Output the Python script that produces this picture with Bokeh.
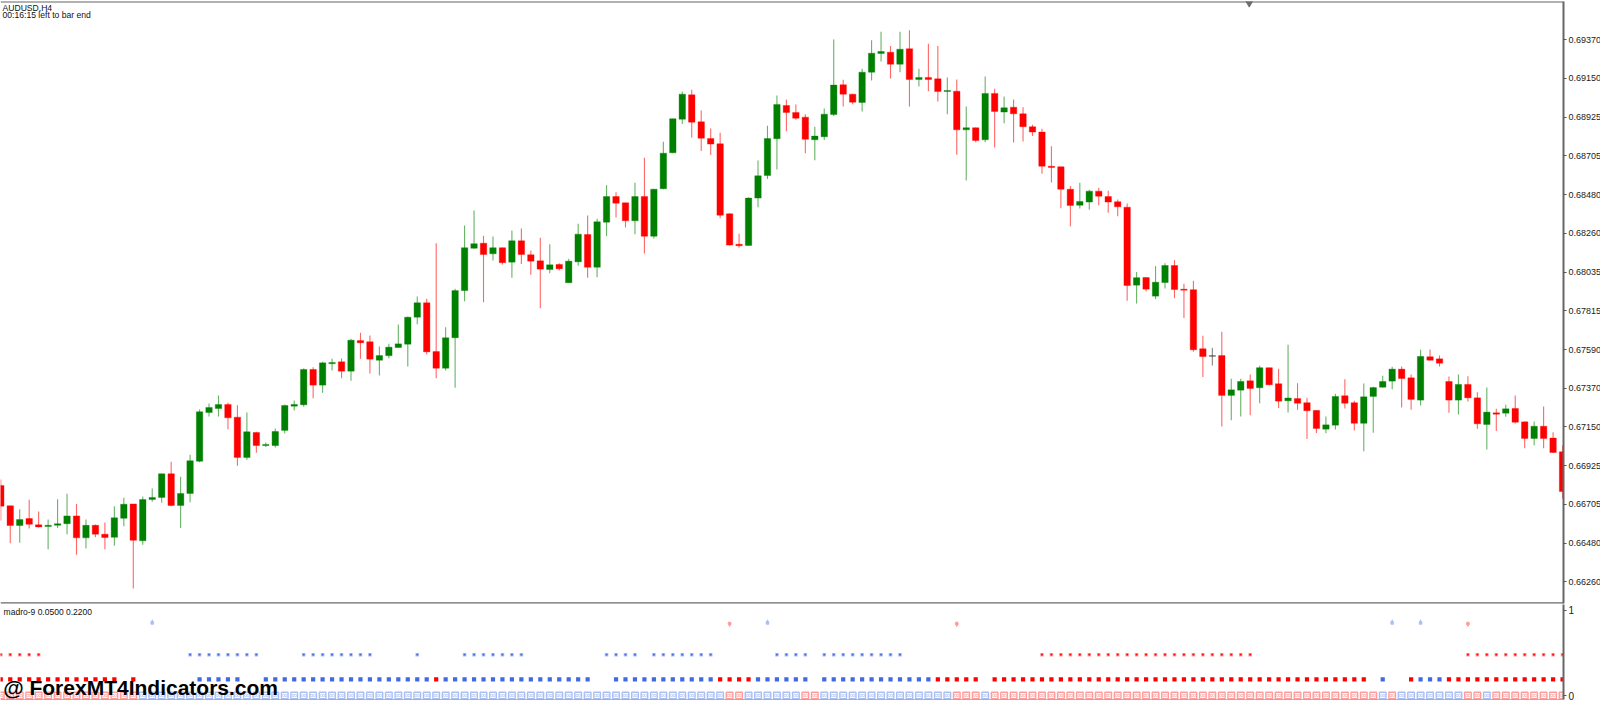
from bokeh.plotting import figure
from bokeh.layouts import column
from bokeh.models import FixedTicker, Label, Range1d, Span, ColumnDataSource
from bokeh.embed import file_html
from bokeh.resources import INLINE

# ---- price data (in 1e-5 units of AUDUSD) ----
directions = ("RRGRRGGGRGRRGGRGGGRGGGGGRRGRGGGGGRGGRGRRGGGGGRRGGGGRGRGRRRGRGGRGGRRGRGGGGRRRRRRGGGGRRRGGGRRGGGRGRGRRGRGRGRGRRRRRRRGGRRRRGRGGRRRRDRGGRGRRGRRRGGRRGGGGRRGRRRGRRGRGRRGRRR")
highs = [66846,66695,66675,66730,66662,66616,66733,66764,66706,66616,66588,66599,66692,66741,66706,66749,66794,66879,66948,66862,66988,
67248,67283,67328,67287,67273,67231,67120,67059,67139,67277,67300,67484,67491,67522,67539,67541,67654,67689,67673,67610,67625,67736,67782,
67897,67884,68203,67721,67941,68305,68391,68246,68242,68178,68276,68288,68161,68234,68197,68088,68114,68315,68362,68343,
68536,68496,68435,68550,68694,68516,68786,68918,69074,69084,68965,68862,68837,68375,68257,68467,68678,68877,69051,69028,69000,68944,68872,68977,
69373,69142,69061,69205,69369,69417,69335,69417,69426,69205,69348,69335,69155,69143,68988,68868,69161,69090,69046,69028,68984,68883,68860,68760,68642,68531,
68550,68510,68521,68504,68454,68431,68037,68008,68071,68088,68106,67970,67987,67671,67602,67694,67424,67424,67449,67499,67488,67482,67620,67399,67315,67243,
67208,67338,67422,67298,67397,67378,67442,67493,67495,67449,67591,67593,67558,67438,67449,67439,67347,67374,67252,67275,67328,67179,67179,67265,67118,67043]
body_tops = [66812,66695,66616,66622,66586,66583,66592,66637,66637,66583,66583,66532,66626,66704,66706,66731,66743,66879,66879,66766,66954,
67235,67260,67277,67277,67204,67120,67116,67047,67122,67271,67277,67478,67478,67516,67518,67522,67646,67644,67637,67558,67606,67625,67778,
67861,67861,67581,67660,67931,68177,68200,68203,68177,68177,68217,68217,68137,68102,68079,68081,68100,68255,68253,68326,
68471,68471,68435,68471,68471,68513,68720,68918,69059,69055,68900,68804,68774,68372,68197,68462,68590,68804,69000,68994,68954,68927,68818,68944,
69111,69113,69059,69185,69294,69304,69300,69317,69320,69155,69155,69147,69080,69076,68866,68866,69063,69063,68981,68984,68946,68872,68841,68645,68642,68513,
68443,68502,68502,68471,68441,68410,68005,68006,67979,68075,68075,67939,67936,67597,67557,67558,67361,67409,67413,67488,67488,67396,67314,67311,67287,67243,
67160,67323,67327,67287,67321,67374,67409,67480,67480,67430,67553,67551,67539,67409,67392,67392,67315,67233,67229,67252,67254,67177,67152,67152,67084,67005]
body_bottoms = [66693,66582,66582,66589,66574,66576,66583,66592,66511,66511,66532,66513,66514,66623,66497,66494,66731,66743,66697,66697,66766,
66951,67231,67254,67200,66973,66973,67041,67041,67041,67128,67267,67275,67388,67388,67511,67468,67468,67631,67537,67531,67557,67604,67623,
67778,67579,67485,67485,67660,67931,68174,68138,68142,68091,68094,68138,68100,68054,68052,68056,67976,68096,68065,68065,
68324,68433,68332,68332,68243,68243,68516,68722,68915,68898,68806,68772,68364,68192,68188,68190,68462,68592,68803,68954,68921,68800,68797,68814,
68942,69059,69013,69011,69185,69293,69231,69231,69143,69143,69143,69074,69074,68854,68854,68793,68797,68960,68956,68946,68872,68841,68645,68638,68513,68420,
68421,68439,68473,68439,68412,67960,67962,67939,67899,67977,67937,67933,67591,67552,67554,67329,67329,67359,67369,67373,67390,67296,67298,67284,67241,67139,
67135,67158,67284,67169,67169,67323,67376,67411,67426,67306,67302,67531,67514,67302,67302,67315,67166,67162,67221,67227,67175,67082,67082,67082,67001,66777]
lows = [66611,66480,66483,66564,66570,66446,66568,66532,66414,66450,66514,66446,66465,66578,66220,66472,66718,66712,66693,66567,66716,
66945,67208,67208,67135,66925,66959,66999,67032,67030,67110,67243,67264,67313,67344,67472,67428,67413,67539,67455,67444,67543,67602,67495,
67738,67564,67428,67472,67373,67870,68171,67864,68104,68081,68004,68083,68022,67830,68031,68046,67974,68073,68004,68008,
68243,68351,68293,68255,68144,68230,68513,68720,68887,68810,68732,68709,68347,68188,68177,68188,68410,68571,68626,68846,68912,68720,68680,68795,
68933,68988,69001,68960,69138,69247,69149,69185,68988,69103,69076,69017,68944,68711,68563,68783,68783,68753,68892,68781,68787,68818,68602,68552,68404,68301,
68403,68395,68421,68378,68358,67872,67857,67926,67882,67943,67887,67773,67580,67434,67501,67150,67187,67208,67215,67284,67388,67256,67231,67246,67078,67112,
67112,67133,67254,67128,67009,67114,67374,67365,67260,67246,67271,67530,67495,67229,67219,67294,67137,67018,67124,67206,67168,67025,67043,67025,66998,66737]

price_ticks = [0.69370,0.69150,0.68925,0.68705,0.68480,0.68260,0.68035,0.67815,0.67590,0.67370,0.67150,0.66925,0.66705,0.66480,0.66260]
price_labels = ["0.69370","0.69150","0.68925","0.68705","0.68480","0.68260","0.68035","0.67815","0.67590","0.67370","0.67150","0.66925","0.66705","0.66480","0.66260"]

# ---- indicator states per bar: run lengths (state, count) ----
bottom_runs = [("R",15),("B",62),("R",2),("B",6),("R",2),("B",14),("R",3),("B",1),("R",41),("B",1),("R",1),("B",7),("R",2),("B",1),("R",8)]
medium_runs = [("R",13),("_",1),("R",1),("_",6),("B",5),("_",2),("B",18),("R",1),("B",16),("_",2),("B",11),("R",4),("B",6),("_",1),("B",12),("R",5),("_",1),("R",40),("_",1),("B",1),("_",2),("R",1),("B",3),("R",13)]
small_runs = [("R",5),("_",15),("B",8),("_",4),("B",8),("_",4),("B",1),("_",4),("B",7),("_",8),("B",4),("_",1),("B",7),("_",6),("B",4),("_",1),("B",9),("_",14),("R",23),("_",22),("R",11)]
arrows_up = [16,81,147,150]
arrows_down = [77,101,155]
level_bottom, level_medium, level_small, level_arrow = 0.0, 0.19, 0.48, 0.85

def expand(runs):
    out = []
    for s, n in runs:
        out += [s] * n
    return out

n = len(highs)
xs = list(range(n))
GREEN, RED, DARK = "#008000", "#ff0000", "#333333"
col = {"G": GREEN, "R": RED, "D": DARK}
colors = [col[d] for d in directions]

y_start, y_end = 0.69591, 0.66134
x_start, x_end = -0.03, 165.1

main = figure(width=1600, height=604, output_backend="svg", toolbar_location=None,
              x_range=Range1d(x_start, x_end), y_range=Range1d(y_end, y_start),
              y_axis_location="right", x_axis_location=None,
              min_border_left=0, min_border_top=1, min_border_bottom=1, min_border_right=0)
main.frame_width = 1563
main.frame_height = 602
main.grid.visible = False
main.outline_line_color = None
main.background_fill_color = "white"

src = ColumnDataSource(dict(x=xs,
                            h=[v / 1e5 for v in highs], l=[v / 1e5 for v in lows],
                            t=[v / 1e5 for v in body_tops], b=[v / 1e5 for v in body_bottoms],
                            c=colors))
main.segment("x", "l", "x", "h", source=src, line_color="c", line_width=1.1, line_alpha=0.6)
main.vbar("x", width=0.68, top="t", bottom="b", source=src, fill_color="c", line_color="c", line_alpha=0.45, line_width=0.8)

ax = main.yaxis[0]
ax.ticker = FixedTicker(ticks=price_ticks)
ax.major_label_overrides = {t: s for t, s in zip(price_ticks, price_labels)}
ax.major_tick_out = 3
ax.major_tick_in = 0
ax.minor_tick_out = 0
ax.minor_tick_in = 0
ax.major_label_standoff = 2
ax.major_label_text_font = "Liberation Sans"
ax.major_label_text_font_size = "9px"
ax.major_label_text_color = "#222222"
ax.axis_line_color = "#666666"
ax.axis_line_width = 2
ax.major_tick_line_color = "#555555"

main.add_layout(Span(location=y_start, dimension="width", line_color="#666666", line_width=2))
main.add_layout(Span(location=y_end, dimension="width", line_color="#6a6a6a", line_width=2.6))
main.scatter([131.9], [0.69587], marker="inverted_triangle", size=8.5, fill_color="#6e6e6e", line_color="#6e6e6e")

main.add_layout(Label(x=0.18, y=0.69584, text="AUDUSD,H4", text_font="Liberation Sans", text_font_size="8.6px",
                      text_baseline="top", text_color="#111111"))
main.add_layout(Label(x=0.18, y=0.69543, text="00:16:15 left to bar end", text_font="Liberation Sans", text_font_size="8.6px",
                      text_baseline="top", text_color="#111111"))

sub = figure(width=1600, height=97, output_backend="svg", toolbar_location=None,
             x_range=main.x_range, y_range=Range1d(-0.047, 1.07),
             y_axis_location="right", x_axis_location=None,
             min_border_left=0, min_border_top=0, min_border_bottom=2, min_border_right=0)
sub.frame_width = 1563
sub.frame_height = 95
sub.grid.visible = False
sub.outline_line_color = None

BLUE, PALE_BLUE, PALE_RED = "#4169e1", "#aabff3", "#ff9d9d"
pal = {"R": RED, "B": BLUE}
pale = {"R": PALE_RED, "B": PALE_BLUE}

bottom = expand(bottom_runs)
bottom_pale = [pale[s] for s in bottom]
sub.scatter(xs, [level_bottom] * n, marker="square", size=6.6,
            fill_color="white", line_color=bottom_pale, line_width=1.4)
sub.scatter([i - 0.13 for i in xs], [level_bottom] * n, marker="circle", size=2.3,
            fill_color="white", line_color=bottom_pale, line_width=0.7)
sub.scatter([i + 0.13 for i in xs], [level_bottom] * n, marker="circle", size=2.3,
            fill_color="white", line_color=bottom_pale, line_width=0.7)

medium = expand(medium_runs)
mx = [i for i, s in zip(xs, medium) if s != "_"]
sub.scatter(mx, [level_medium] * len(mx), marker="square", size=4.2,
            fill_color=[pal[s] for s in medium if s != "_"], line_color=None)

small = expand(small_runs)
sx = [i for i, s in zip(xs, small) if s != "_"]
sub.scatter(sx, [level_small] * len(sx), marker="square", size=3.6,
            fill_color=[pale[s] for s in small if s != "_"], line_color=None)
sub.scatter(sx, [level_small] * len(sx), marker="square", size=1.8,
            fill_color=[pal[s] for s in small if s != "_"], line_color=None)

sub.scatter(arrows_up, [level_arrow] * len(arrows_up), marker="square", size=3, fill_color=PALE_BLUE, line_color=None)
sub.scatter(arrows_up, [level_arrow + 0.015] * len(arrows_up), marker="triangle", size=4.6, fill_color=PALE_BLUE, line_color=None)
sub.scatter(arrows_down, [level_arrow] * len(arrows_down), marker="square", size=3, fill_color=PALE_RED, line_color=None)
sub.scatter(arrows_down, [level_arrow - 0.015] * len(arrows_down), marker="inverted_triangle", size=4.6, fill_color=PALE_RED, line_color=None)

ay = sub.yaxis[0]
ay.ticker = FixedTicker(ticks=[0, 1])
ay.major_tick_out = 3
ay.major_tick_in = 0
ay.minor_tick_out = 0
ay.minor_tick_in = 0
ay.major_label_standoff = 2
ay.major_label_text_font = "Liberation Sans"
ay.major_label_text_font_size = "10px"
ay.major_label_text_color = "#222222"
ay.axis_line_color = "#666666"
ay.axis_line_width = 2
ay.major_tick_line_color = "#555555"

sub.add_layout(Span(location=-0.047, dimension="width", line_color="#6a6a6a", line_width=1))
sub.add_layout(Label(x=0.3, y=1.045, text="madro-9 0.0500 0.2200", text_font="Liberation Sans", text_font_size="8.5px",
                     text_baseline="top", text_color="#111111"))
sub.add_layout(Label(x=0.25, y=-0.04, text="@ ForexMT4Indicators.com", text_font="Liberation Sans", text_font_style="bold",
                     text_font_size="21px", text_baseline="bottom", text_color="black"))

page = column(main, sub, spacing=0, margin=0)
open("out.html", "w").write(file_html(page, INLINE))
